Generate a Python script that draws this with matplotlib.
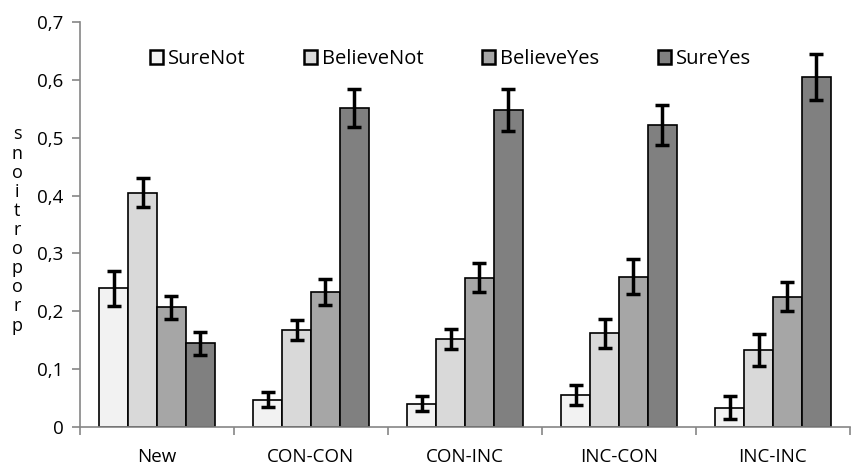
import numpy as np
import matplotlib.pyplot as plt
from matplotlib.ticker import FuncFormatter

plt.rcParams['font.family'] = ['Open Sans', 'DejaVu Sans']

categories = ['New', 'CON-CON', 'CON-INC', 'INC-CON', 'INC-INC']
series = ['SureNot', 'BelieveNot', 'BelieveYes', 'SureYes']
values = {
    'SureNot':    [0.240, 0.047, 0.040, 0.055, 0.033],
    'BelieveNot': [0.405, 0.168, 0.152, 0.162, 0.133],
    'BelieveYes': [0.207, 0.233, 0.258, 0.260, 0.225],
    'SureYes':    [0.145, 0.552, 0.548, 0.522, 0.605],
}
errors = {
    'SureNot':    [0.030, 0.013, 0.013, 0.017, 0.020],
    'BelieveNot': [0.025, 0.017, 0.017, 0.025, 0.027],
    'BelieveYes': [0.020, 0.022, 0.025, 0.030, 0.025],
    'SureYes':    [0.020, 0.033, 0.037, 0.035, 0.040],
}
colors = ['#f2f2f2', '#d9d9d9', '#a6a6a6', '#808080']

fig = plt.figure(figsize=(8.62, 4.68), dpi=100)
ax = fig.add_axes([80/862, 1 - 427/468, 770/862, 405/468])

x = np.arange(len(categories))
w = 0.1875
for i, s in enumerate(series):
    pos = x + (i - 1.5) * w
    ax.bar(pos, values[s], w, color=colors[i], edgecolor='black', linewidth=1.2,
           label=s, zorder=2)
    ax.errorbar(pos, values[s], yerr=errors[s], fmt='none', ecolor='black',
                elinewidth=2.5, capsize=5, capthick=2.5, zorder=3)

ax.set_xlim(-0.5, len(categories) - 0.5)
ax.set_ylim(0, 0.7)
ax.set_yticks(np.arange(0, 0.71, 0.1))
ax.yaxis.set_major_formatter(FuncFormatter(
    lambda v, p: '0' if abs(v) < 1e-9 else ('%.1f' % v).replace('.', ',')))
ax.set_xticks(x)
ax.set_xticklabels(categories)
ax.set_xticks(np.arange(-0.5, len(categories), 1), minor=True)
ax.tick_params(axis='x', which='major', length=0, pad=15, labelsize=13.5)
ax.tick_params(axis='x', which='minor', length=6, color='#868686', width=1.2)
ax.tick_params(axis='y', length=6, color='#868686', width=1.2, labelsize=13.5, pad=6)

for side in ['top', 'right']:
    ax.spines[side].set_visible(False)
for side in ['left', 'bottom']:
    ax.spines[side].set_color('#868686')
    ax.spines[side].set_linewidth(1.2)

label = 'snoitroporp'
fig.text(17/862, 1 - 230/468, '\n'.join(label), ha='center', va='center',
         fontsize=13, linespacing=1.08)

leg = ax.legend(loc='center left', bbox_to_anchor=((150 - 80)/770, 1 - 37/405), ncol=4,
                frameon=False, fontsize=14.5, handlelength=0.65, handleheight=0.65,
                handletextpad=0.25, columnspacing=2.9, borderpad=0, borderaxespad=0)
for h in leg.legend_handles:
    h.set_linewidth(1.8)

fig.savefig('out.png', dpi=100)
